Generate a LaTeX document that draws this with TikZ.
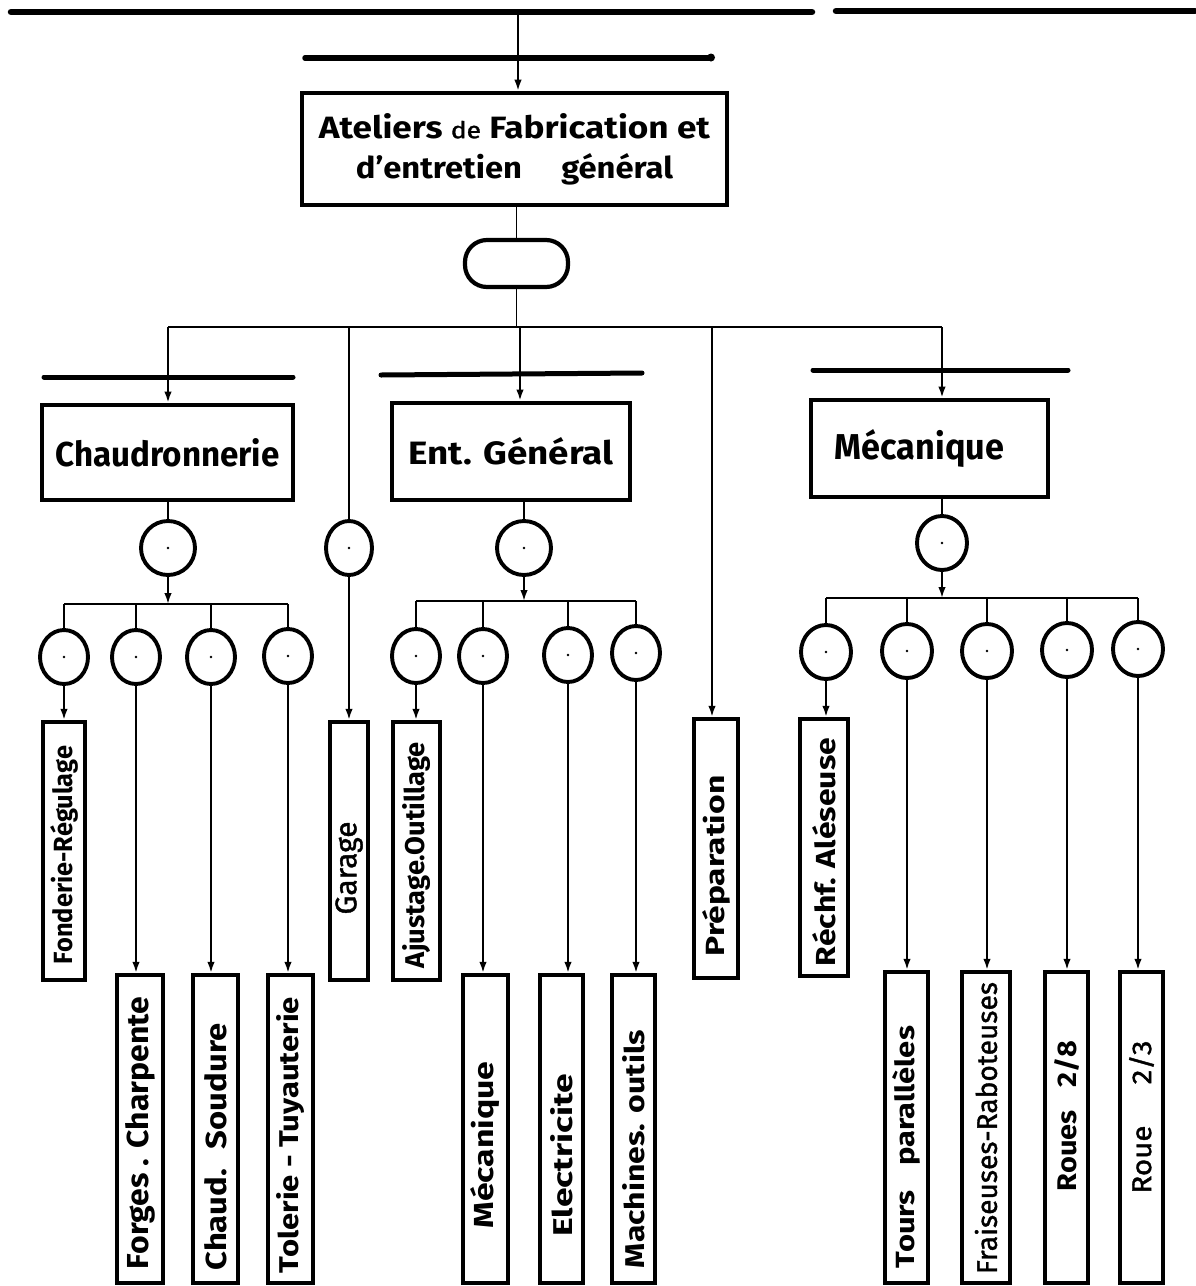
\documentclass[tikz,border=0pt]{standalone}
\usepackage{fontspec}
\setmainfont{Fira Sans}
\newfontfamily\medfont{Fira Sans}[FakeBold=1.3]
\usetikzlibrary{arrows.meta,shapes.geometric}
\newcommand{\fitbox}[3]{\resizebox{#1pt}{#2pt}{\fontsize{20}{24}\selectfont #3}}
\begin{document}
\begin{tikzpicture}[x=1pt,y=-1pt,
  bar/.style={line width=6.5pt,line cap=round},
  sbar/.style={line width=5pt,line cap=round},
  conn/.style={line width=1.9pt},
  arr/.style={conn,-{Latex[length=11pt,width=7.5pt]}},
  mainbox/.style={draw,line width=4.6pt,rectangle,inner sep=0pt,align=center,font=\fontsize{30}{40}\selectfont},
  secbox/.style={draw,line width=4.8pt,rectangle,inner sep=0pt},
  pillbox/.style={draw,line width=4.2pt,rectangle,rounded corners=22pt,minimum width=103pt,minimum height=47pt},
  leaf/.style={draw,line width=4.4pt,rectangle,inner sep=0pt},
  ring/.style={draw,line width=3.9pt,ellipse,inner sep=0pt,minimum width=48pt,minimum height=54pt},
  vlab/.style={rotate=90,inner sep=0pt,anchor=center},
]
\useasboundingbox (0,0) rectangle (1195,1286);

% --- top bars
\draw[bar] (11,12) -- (812,12);
\draw[bar] (836,11) -- (1195,11);
\draw[bar,line width=5.5pt] (305,58) -- (709,58);
\fill (711,57.5) circle (4pt);

% --- top box and pill
\node[mainbox,minimum width=425pt,minimum height=112pt] (top) at (514.5,149)
  {\fitbox{391}{25}{\bfseries Ateliers {\medfont\mdseries\fontsize{15}{18}\selectfont de} Fabrication et}\\
   \fitbox{317}{25}{\bfseries d’entretien\hspace{1.2em}général}};
\node[pillbox] (pill) at (516.5,263.5) {};
\coordinate (t0) at (518,12);
\draw[arr] (t0) -- (t0 |- top.north);
\draw[conn] (pill.north |- top.south) -- (pill.north);

% --- main bus
\coordinate (dC) at (168,327);
\coordinate (dG) at (349,327);
\coordinate (dE) at (520,327);
\coordinate (dP) at (712,327);
\coordinate (dM) at (942,327);
\draw[conn] (pill.south) -- (pill.south |- dC);
\draw[conn,line width=2.2pt] (dC) -- (dM);

% --- section bars
\draw[sbar] (44,377) -- (293,377);
\draw[sbar] (381,375) -- (642,373);
\draw[sbar] (813,370) -- (1068,370);

% --- section boxes
\node[secbox,minimum width=251pt,minimum height=95pt] (chau) at (167.5,452.5)
  {\fitbox{224}{28}{\bfseries Chaudronnerie}};
\node[secbox,minimum width=238pt,minimum height=97pt] (ent) at (511,451.5)
  {\fitbox{205}{27}{\bfseries Ent. Général}};
\node[secbox,minimum width=237pt,minimum height=97pt] (mec) at (929.5,448.5)
  {\fitbox{169}{30}{\bfseries Mécanique}\hspace*{20pt}};

\draw[arr] (dC) -- (dC |- chau.north);
\draw[arr] (dE) -- (dE |- ent.north);
\draw[arr] (dM) -- (dM |- mec.north);

% --- level 1 circles
\node[ring,minimum width=54pt] (c1) at (168,548) {};
\node[ring,minimum width=46pt] (cg) at (349,548) {};
\node[ring,minimum width=54pt] (c2) at (524,548) {};
\node[ring,minimum width=50pt] (c3) at (942,543) {};

\draw[conn] (c1.north |- chau.south) -- (c1.north);
\draw[conn] (c2.north |- ent.south) -- (c2.north);
\draw[conn] (c3.north |- mec.south) -- (c3.north);
\draw[conn] (dG) -- (cg.north);

% --- sub buses
\coordinate (sA) at (176,604);
\coordinate (sB) at (520,601);
\coordinate (sM) at (980,598);

% --- level 2 circles
\node[ring] (a1) at (64,657) {};
\node[ring] (a2) at (136,657) {};
\node[ring] (a3) at (211,657) {};
\node[ring] (a4) at (288,656) {};
\node[ring] (b1) at (416,656) {};
\node[ring] (b2) at (483,656) {};
\node[ring] (b3) at (568,655) {};
\node[ring] (b4) at (636,653) {};
\node[ring,minimum width=50pt] (m1) at (826,652) {};
\node[ring,minimum width=50pt] (m2) at (907,651) {};
\node[ring,minimum width=50pt] (m3) at (987,651) {};
\node[ring,minimum width=50pt] (m4) at (1067,650) {};
\node[ring,minimum width=50pt] (m5) at (1138,649) {};

\draw[arr] (c1.south) -- (c1.south |- sA);
\draw[arr] (c2.south) -- (c2.south |- sB);
\draw[arr] (c3.south) -- (c3.south |- sM);
\draw[conn,line width=2.2pt] (a1.north |- sA) -- (a4.north |- sA);
\draw[conn,line width=2.2pt] (b1.north |- sB) -- (b4.north |- sB);
\draw[conn,line width=2.2pt] (m1.north |- sM) -- (m5.north |- sM);
\foreach \n in {a1,a2,a3,a4} \draw[conn] (\n.north |- sA) -- (\n.north);
\foreach \n in {b1,b2,b3,b4} \draw[conn] (\n.north |- sB) -- (\n.north);
\foreach \n in {m1,m2,m3,m4,m5} \draw[conn] (\n.north |- sM) -- (\n.north);

\foreach \n in {c1,cg,c2,c3,a1,a2,a3,a4,b1,b2,b3,b4,m1,m2,m3,m4,m5} \fill (\n) circle (1.3pt);

% --- leaf boxes, row A
\node[leaf,minimum width=42pt,minimum height=258pt] (lfon) at (64,851) {};
\node[leaf,minimum width=38pt,minimum height=258pt] (lgar) at (349,851) {};
\node[leaf,minimum width=47pt,minimum height=258pt] (laju) at (416.5,851) {};
\node[leaf,minimum width=44pt,minimum height=259pt] (lpre) at (716,848.5) {};
\node[leaf,minimum width=48pt,minimum height=257pt] (lrec) at (824,847.5) {};

% --- leaf boxes, row B
\node[leaf,minimum width=46pt,minimum height=308pt] (lfor) at (140,1129) {};
\node[leaf,minimum width=45pt,minimum height=308pt] (lsou) at (215.5,1129) {};
\node[leaf,minimum width=45pt,minimum height=308pt] (ltol) at (290.5,1129) {};
\node[leaf,minimum width=45pt,minimum height=308pt] (lmec) at (485.5,1129) {};
\node[leaf,minimum width=43pt,minimum height=308pt] (lele) at (561.5,1129) {};
\node[leaf,minimum width=43pt,minimum height=308pt] (lmac) at (633.5,1129) {};
\node[leaf,minimum width=43pt,minimum height=311pt] (ltou) at (906.5,1127.5) {};
\node[leaf,minimum width=48pt,minimum height=311pt] (lfra) at (986,1127.5) {};
\node[leaf,minimum width=43pt,minimum height=311pt] (lrou) at (1066.5,1127.5) {};
\node[leaf,minimum width=43pt,minimum height=311pt] (lroe) at (1141.5,1127.5) {};

% --- leaf labels
\node[vlab] (tfon) at (64,855) {\fitbox{218}{22}{\bfseries Fonderie-Régulage}};
\node[vlab] (tgar) at (349,868) {\fitbox{93}{21}{\medfont Garage}};
\node[vlab] (taju) at (416.5,855) {\fitbox{226}{22}{\bfseries Ajustage.Outillage}};
\node[vlab] (tpre) at (716,866) {\fitbox{181}{22}{\bfseries Préparation}};
\node[vlab] (trec) at (824,852) {\fitbox{228}{23}{\bfseries Réchf. Aléseuse}};
\node[vlab] (tfor) at (140,1133) {\fitbox{272}{23}{\bfseries Forges . Charpente}};
\node[vlab] (tsou) at (215.5,1147) {\fitbox{247}{22}{\bfseries Chaud.\hspace{0.6em}Soudure}};
\node[vlab] (ttol) at (290.5,1135) {\fitbox{276}{22}{\bfseries Tolerie - Tuyauterie}};
\node[vlab] (tmec) at (485.5,1145) {\fitbox{167}{23}{\bfseries Mécanique}};
\node[vlab] (tele) at (561.5,1155) {\fitbox{163}{22}{\bfseries Electricite}};
\node[vlab] (tmac) at (633.5,1149) {\fitbox{238}{22}{\bfseries Machines. outils}};
\node[vlab] (ttou) at (906.5,1147) {\fitbox{242}{22}{\bfseries Tours\hspace{0.8em}parallèles}};
\node[vlab] (tfra) at (986,1128) {\fitbox{292}{22}{\medfont Fraiseuses-Raboteuses}};
\node[vlab] (trou) at (1066.5,1116) {\fitbox{150}{22}{\bfseries Roues\hspace{0.8em}2/8}};
\node[vlab] (troe) at (1141.5,1117) {\fitbox{153}{22}{\medfont Roue\hspace{1.4em}2/3}};

% --- arrows into leaves
\draw[arr] (a1.south) -- (a1.south |- lfon.north);
\draw[arr] (a2.south) -- (a2.south |- lfor.north);
\draw[arr] (a3.south) -- (a3.south |- lsou.north);
\draw[arr] (a4.south) -- (a4.south |- ltol.north);
\draw[arr] (cg.south) -- (cg.south |- lgar.north);
\draw[arr] (b1.south) -- (b1.south |- laju.north);
\draw[arr] (b2.south) -- (b2.south |- lmec.north);
\draw[arr] (b3.south) -- (b3.south |- lele.north);
\draw[arr] (b4.south) -- (b4.south |- lmac.north);
\draw[arr] (dP) -- (dP |- lpre.north);
\draw[arr] (m1.south) -- (m1.south |- lrec.north);
\draw[arr] (m2.south) -- (m2.south |- ltou.north);
\draw[arr] (m3.south) -- (m3.south |- lfra.north);
\draw[arr] (m4.south) -- (m4.south |- lrou.north);
\draw[arr] (m5.south) -- (m5.south |- lroe.north);
\end{tikzpicture}
\end{document}
